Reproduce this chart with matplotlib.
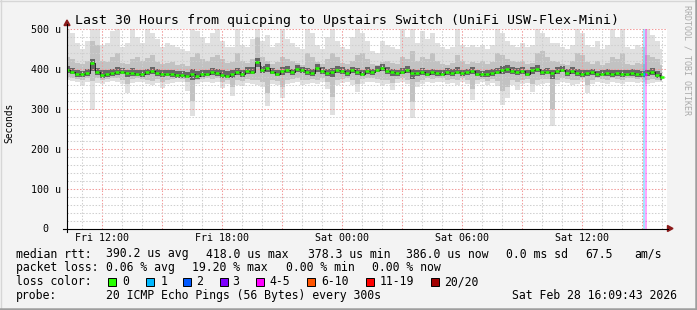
import numpy as np
import matplotlib
matplotlib.use('Agg')
import matplotlib.pyplot as plt
from matplotlib.patches import Rectangle, Polygon
from matplotlib.lines import Line2D

# ---------------- data ----------------
title = "Last 30 Hours from quicping to Upstairs Switch (UniFi USW-Flex-Mini)"
t_start = 10.25   # hours since Fri 00:00
t_step = 0.25     # 15 minute steps

median = [398, 393, 387, 386, 390, 416, 392, 385, 387, 390, 392, 393, 389, 390, 388, 386, 391, 395, 390, 386,
          388, 387, 385, 384, 383, 386, 381, 386, 388, 391, 389, 385, 383, 388, 391, 387, 395, 393, 417, 397,
          402, 393, 388, 394, 398, 391, 401, 397, 392, 389, 402, 395, 390, 392, 398, 395, 390, 396, 393, 388,
          394, 392, 398, 402, 394, 391, 389, 393, 397, 390, 389, 392, 388, 391, 389, 388, 392, 390, 393, 389,
          391, 395, 388, 386, 386, 390, 393, 397, 399, 395, 392, 394, 388, 396, 399, 391, 393, 389, 395, 398,
          390, 394, 390, 387, 389, 391, 386, 388, 390, 387, 389, 386, 388, 390, 387, 386, 389, 392, 384, 380]

smoke_max = [505, 490, 465, 450, 470, 505, 500, 460, 465, 495, 505, 455, 465, 500, 480, 465, 505, 490, 475, 455,
             465, 460, 455, 450, 445, 505, 495, 480, 465, 490, 505, 470, 455, 455, 500, 460, 455, 475, 505, 470,
             485, 455, 465, 505, 475, 465, 455, 450, 500, 490, 460, 450, 480, 505, 470, 455, 450, 480, 505, 490,
             470, 445, 440, 470, 460, 455, 450, 500, 480, 505, 465, 495, 475, 490, 465, 455, 450, 455, 505, 460,
             455, 460, 455, 460, 450, 460, 500, 490, 470, 460, 455, 465, 455, 460, 505, 490, 480, 465, 465, 455,
             450, 460, 505, 490, 460, 455, 470, 450, 460, 500, 480, 505, 455, 450, 460, 455, 505, 485, 470, 450]

smoke_min = [372, 370, 366, 360, 368, 298, 365, 362, 368, 370, 366, 362, 339, 364, 368, 366, 362, 360, 364, 352,
             362, 365, 368, 366, 345, 281, 362, 366, 368, 364, 366, 352, 362, 331, 360, 358, 364, 362, 360, 354,
             306, 362, 360, 327, 362, 364, 366, 360, 362, 365, 362, 366, 350, 285, 360, 364, 366, 360, 343, 362,
             368, 366, 364, 360, 362, 347, 364, 366, 362, 277, 355, 362, 366, 364, 368, 366, 362, 364, 360, 366,
             362, 323, 362, 366, 360, 364, 358, 310, 327, 360, 347, 362, 364, 343, 360, 362, 364, 256, 362, 366,
             364, 360, 362, 366, 339, 362, 366, 364, 362, 366, 364, 362, 366, 368, 364, 366, 362, 364, 366, 368]

smoke_p90 = [430, 425, 415, 412, 420, 470, 460, 420, 418, 430, 440, 415, 412, 425, 430, 420, 428, 435, 418, 412,
             415, 418, 410, 412, 408, 430, 440, 425, 420, 430, 435, 425, 415, 418, 440, 420, 415, 425, 480, 430,
             420, 412, 418, 430, 425, 420, 415, 410, 440, 430, 418, 412, 425, 440, 430, 415, 412, 420, 435, 440,
             425, 412, 410, 418, 420, 415, 412, 430, 425, 445, 420, 430, 425, 440, 420, 412, 410, 415, 435, 420,
             412, 418, 415, 420, 412, 418, 440, 435, 425, 420, 418, 420, 412, 415, 440, 445, 430, 420, 418, 412,
             410, 420, 440, 435, 418, 412, 420, 410, 415, 430, 425, 440, 412, 410, 415, 412, 435, 430, 425, 410]

smoke_p10 = [380, 378, 374, 372, 376, 370, 376, 372, 375, 378, 376, 372, 362, 374, 376, 375, 372, 370, 374, 366,
             372, 374, 376, 374, 368, 320, 372, 375, 376, 374, 376, 368, 372, 355, 372, 370, 374, 372, 372, 368,
             340, 372, 370, 355, 372, 374, 376, 372, 372, 375, 372, 376, 366, 330, 372, 374, 376, 372, 362, 374,
             378, 376, 374, 372, 372, 365, 374, 376, 372, 318, 368, 372, 376, 374, 376, 376, 372, 374, 372, 376,
             372, 350, 372, 374, 370, 374, 370, 345, 355, 372, 366, 372, 374, 362, 372, 374, 374, 300, 372, 376,
             374, 372, 372, 376, 360, 372, 376, 374, 372, 376, 374, 372, 376, 378, 374, 376, 372, 374, 372, 370]

smoke_p75 = [408, 402, 396, 395, 400, 425, 402, 396, 398, 400, 404, 402, 398, 402, 398, 396, 400, 405, 400, 396,
             398, 396, 395, 394, 393, 400, 395, 396, 398, 402, 400, 396, 394, 398, 402, 398, 405, 404, 428, 408,
             412, 403, 398, 404, 408, 400, 410, 406, 402, 399, 412, 405, 400, 402, 408, 405, 400, 406, 403, 398,
             404, 401, 408, 412, 404, 400, 398, 403, 407, 400, 398, 402, 398, 401, 398, 397, 402, 400, 404, 398,
             400, 405, 397, 395, 396, 400, 403, 407, 409, 405, 402, 404, 397, 406, 409, 401, 403, 398, 405, 408,
             400, 404, 400, 397, 398, 401, 395, 397, 400, 396, 398, 396, 397, 400, 396, 395, 398, 402, 395, 390]

smoke_p25 = [390, 386, 380, 379, 383, 395, 385, 378, 380, 383, 385, 386, 380, 383, 381, 379, 384, 388, 383, 379,
             381, 380, 378, 377, 376, 372, 374, 379, 381, 384, 382, 378, 376, 378, 384, 380, 388, 386, 405, 390,
             392, 386, 381, 384, 390, 384, 392, 390, 385, 382, 393, 388, 382, 380, 390, 388, 383, 389, 385, 381,
             387, 385, 391, 394, 387, 383, 382, 386, 390, 375, 382, 385, 381, 384, 382, 381, 385, 383, 386, 382,
             384, 388, 381, 379, 379, 383, 386, 388, 390, 388, 385, 387, 381, 388, 392, 384, 386, 375, 388, 391,
             383, 387, 383, 380, 381, 384, 379, 381, 383, 380, 382, 379, 381, 383, 380, 379, 382, 385, 377, 373]

loss_start = [39.07, 39.165]     # hours
loss_width = [0.095, 0.085]
loss_count_color = ['#00b8ff', '#ff00ff']
loss_median = [387, 387]

xtick_pos = [12, 18, 24, 30, 36]
xtick_labels = ["Fri 12:00", "Fri 18:00", "Sat 00:00", "Sat 06:00", "Sat 12:00"]
ytick_pos = [0, 100, 200, 300, 400, 500]
ytick_labels = ["0  ", "100 u", "200 u", "300 u", "400 u", "500 u"]

loss_labels = ["0", "1", "2", "3", "4-5", "6-10", "11-19", "20/20"]
loss_colors = ['#26ff00', '#00b8ff', '#0059ff', '#7e00ff', '#ff00ff', '#ff5500', '#ff0000', '#a10000']

# ---------------- figure ----------------
W, H = 697, 310
MONO = 'DejaVu Sans Mono'
plt.rcParams['font.family'] = [MONO]
fig = plt.figure(figsize=(W / 100, H / 100), dpi=100)
fig.patch.set_facecolor('#f3f3f3')


def fx(x):
    return x / W


def fy(y):
    return 1 - y / H


L, R, T, B = 66.5, 667.0, 29.0, 228.5
ax = fig.add_axes([fx(L), fy(B), (R - L) / W, (B - T) / H])
ax.set_facecolor('white')
ax.set_xlim(10.225, 40.25)
ax.set_ylim(0, 500)
for s in ax.spines.values():
    s.set_visible(False)

t = t_start + t_step * np.arange(len(median))
med = np.array(median, float)

# smoke
ax.fill_between(t, smoke_min, smoke_max, step='mid', color='#e0e0e0', lw=0, zorder=1)
ax.fill_between(t, smoke_p10, smoke_p90, step='mid', color='#c2c2c2', lw=0, zorder=1.1)
ax.fill_between(t, smoke_p25, smoke_p75, step='mid', color='#666666', lw=0, zorder=1.2)

# grid
dots = (0, (1.4, 1.6))
for h in range(11, 41):
    c = '#f29a9a' if h % 3 == 0 else '#cfcfcf'
    ax.axvline(h, color=c, lw=0.75, ls=dots, zorder=2)
for v in range(20, 501, 20):
    c = '#f29a9a' if v % 100 == 0 else '#cfcfcf'
    ax.axhline(v, color=c, lw=0.75, ls=dots, zorder=2)

# loss bars
for s0, w0, c0, m0 in zip(loss_start, loss_width, loss_count_color, loss_median):
    ax.axvspan(s0, s0 + w0, color=c0, alpha=0.35, lw=0, zorder=2.5)

# median
ax.step(t, med, where='mid', color='#111111', lw=0.6, zorder=3)
ax.hlines(med, t - 0.1, t + 0.1, color='#26ff00', lw=1.8, zorder=3.2)
for s0, w0, c0, m0 in zip(loss_start, loss_width, loss_count_color, loss_median):
    ax.hlines(m0, s0, s0 + w0, color=c0, lw=1.8, zorder=3.3)

# ticks
ax.set_xticks(xtick_pos)
ax.set_xticklabels(xtick_labels, fontsize=7.2, family=MONO)
ax.set_yticks(ytick_pos)
ax.set_yticklabels(ytick_labels, fontsize=7.2, family=MONO)
ax.tick_params(axis='both', length=0)
ax.tick_params(axis='x', pad=3.5)
ax.tick_params(axis='y', pad=4)
ax.set_ylabel('Seconds', fontsize=6.9, family=MONO)
ax.yaxis.set_label_coords((14.5 - L) / (R - L), (B - 123) / (B - T))

# axes lines and arrows
fig.add_artist(Line2D([fx(67), fx(67)], [fy(232), fy(24)], color='black', lw=0.8))
fig.add_artist(Line2D([fx(63), fx(668)], [fy(228.5), fy(228.5)], color='black', lw=0.8))
fig.add_artist(Polygon([[fx(64), fy(25.5)], [fx(70), fy(25.5)], [fx(67), fy(20)]],
                       closed=True, color='#8b1a1a', transform=fig.transFigure))
fig.add_artist(Polygon([[fx(667.5), fy(225.5)], [fx(667.5), fy(231.5)], [fx(673), fy(228.5)]],
                       closed=True, color='#8b1a1a', transform=fig.transFigure))

# title and side text
fig.text(fx(346.7), fy(24.2), title, ha='center', va='baseline', fontsize=9.5, family=MONO, color='black')
fig.text(fx(687.5), fy(5), 'RRDTOOL / TOBI OETIKER', rotation=-90, ha='center', va='top',
         fontsize=6.0, family=MONO, color='#aaaaaa')

# legend
LF = 8.3
rows = [257.5, 271.3, 285.2, 299.0]
row1 = [(16, "median rtt:"), (107, "390.2 us avg"), (207, "418.0 us max"), (309, "378.3 us min"),
        (407, "386.0 us now"), (507, "0.0 ms sd"), (586, "67.5"), (635, "am/s")]
row2 = [(16, "packet loss:"), (107, "0.06 % avg"), (193, "19.20 % max"), (286, "0.00 % min"),
        (372.5, "0.00 % now")]
row4 = [(16, "probe:"), (107, "20 ICMP Echo Pings (56 Bytes) every 300s"), (513, "Sat Feb 28 16:09:43 2026")]
for rowy, items in ((rows[0], row1), (rows[1], row2), (rows[3], row4)):
    for x0, s in items:
        fig.text(fx(x0 - 0.5), fy(rowy), s, ha='left', va='baseline', fontsize=LF, family=MONO)

fig.text(fx(15.5), fy(rows[2]), "loss color:", ha='left', va='baseline', fontsize=LF, family=MONO)
box_x = [108, 146, 183, 219.5, 256, 307, 366, 431]
lab_x = [123, 160.7, 197, 233, 270, 322, 380, 445]
for bx, lx, lab, col in zip(box_x, lab_x, loss_labels, loss_colors):
    fig.add_artist(Rectangle((fx(bx), fy(285.5)), 8 / W, 8 / H, transform=fig.transFigure,
                             facecolor=col, edgecolor='black', lw=0.7))
    fig.text(fx(lx - 0.5), fy(rows[2]), lab, ha='left', va='baseline', fontsize=LF, family=MONO)

# frame
fig.add_artist(Line2D([0, 1], [fy(0.5), fy(0.5)], color='#d6d6d6', lw=1))
fig.add_artist(Line2D([fx(0.5), fx(0.5)], [0, 1], color='#d6d6d6', lw=1))
fig.add_artist(Line2D([0, 1], [fy(308.8), fy(308.8)], color='#9e9e9e', lw=1.8))
fig.add_artist(Line2D([fx(695.8), fx(695.8)], [0, 1], color='#9e9e9e', lw=1.8))

fig.savefig('out.png', dpi=100, facecolor=fig.get_facecolor())
